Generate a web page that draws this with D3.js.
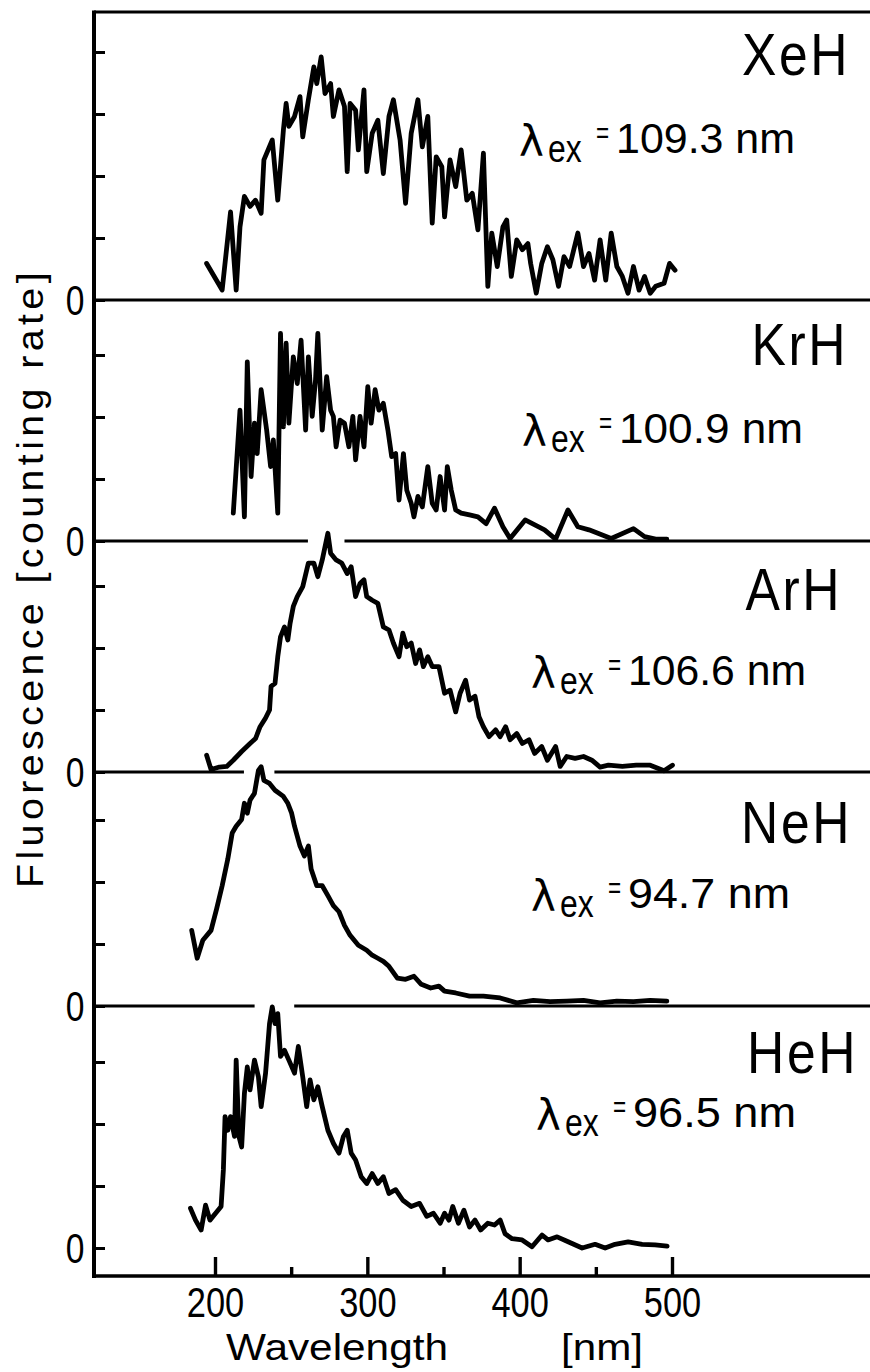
<!DOCTYPE html>
<html>
<head>
<meta charset="utf-8">
<script src="https://cdn.jsdelivr.net/npm/d3@7"></script>
<style>
html, body { margin: 0; padding: 0; background: #fff; }
svg { display: block; }
</style>
</head>
<body>
<svg id="chart" width="870" height="1372"></svg>
<script>
// ---- data (wavelength in nm, fluorescence in tick units) ----
const wavelengthTicks = [200, 300, 400, 500];
const wavelengthMinorTicks = [250, 350, 450];
const panelNames = ['XeH', 'KrH', 'ArH', 'NeH', 'HeH'];
const excitationNm = ['109.3', '100.9', '106.6', '94.7', '96.5'];
const panelTicks = [[0, 1, 2, 3, 4], [0, 1, 2, 3], [0, 1, 2, 3], [0, 1, 2, 3], [0, 1, 2, 3]];

const xehSpectrum = [[194.5,0.59],[204.7,0.16],[210.2,1.42],[213.9,0.16],[216.4,1.18],[219.3,1.67],[223.0,1.51],[226.6,1.61],[230.3,1.40],[232.1,2.26],[237.6,2.58],[241.2,1.61],[244.9,2.74],[246.7,3.17],[248.5,2.80],[252.2,2.96],[255.8,3.28],[257.6,2.63],[261.3,3.23],[264.9,3.76],[266.8,3.49],[269.7,3.92],[272.2,3.33],[275.9,3.49],[277.7,2.96],[281.4,3.39],[285.0,3.12],[286.8,2.07],[288.7,3.17],[292.3,3.06],[294.1,2.42],[297.8,3.39],[299.6,2.07],[303.2,2.69],[306.9,2.90],[310.5,2.04],[314.2,2.96],[317.1,3.23],[321.5,2.58],[325.1,1.56],[328.8,2.69],[333.2,3.23],[336.1,2.47],[339.7,2.96],[342.6,1.24],[345.2,2.31],[348.9,2.15],[350.7,1.34],[354.3,2.26],[358.0,1.83],[361.6,2.42],[365.3,1.61],[368.9,1.72],[372.6,1.13],[376.2,2.37],[379.1,0.22],[381.7,1.08],[385.3,0.54],[389.0,1.18],[391.5,1.29],[394.5,0.38],[398.1,0.97],[401.8,0.81],[405.4,0.91],[407.2,0.59],[410.9,0.11],[414.5,0.59],[418.2,0.86],[421.8,0.65],[425.5,0.22],[429.1,0.70],[432.8,0.54],[438.2,1.08],[441.9,0.54],[445.5,0.75],[449.2,0.32],[452.8,0.97],[456.5,0.32],[460.1,1.08],[463.8,0.54],[467.4,0.38],[471.1,0.11],[474.7,0.54],[478.4,0.16],[482.0,0.38],[485.7,0.11],[489.3,0.22],[494.8,0.27],[498.4,0.59],[502.0,0.48]];

const krhSpectrum = [[212.0,0.45],[216.4,2.11],[219.3,0.39],[221.2,2.89],[223.7,1.04],[225.9,1.90],[227.7,1.41],[230.3,2.44],[233.9,1.79],[236.5,1.20],[238.3,1.63],[241.2,0.45],[243.0,3.35],[244.9,1.84],[246.7,3.19],[248.5,1.90],[251.4,2.97],[254.0,2.54],[256.5,3.24],[259.5,1.79],[261.3,2.97],[263.8,2.01],[266.0,2.60],[267.5,3.35],[270.4,1.79],[273.3,2.65],[275.9,2.11],[277.7,2.01],[279.5,1.52],[282.1,1.95],[285.0,1.90],[287.9,1.52],[290.5,2.01],[292.3,1.31],[295.2,2.01],[297.8,1.52],[300.3,2.49],[302.5,1.90],[305.1,2.44],[307.6,2.11],[310.5,2.22],[313.5,1.79],[316.0,1.36],[318.6,1.41],[320.8,0.66],[323.7,1.41],[325.9,0.82],[328.8,0.61],[330.6,0.39],[333.2,0.72],[336.1,0.55],[339.7,1.20],[342.6,0.61],[345.2,0.50],[347.8,1.04],[350.7,0.50],[352.5,1.20],[355.1,0.82],[358.0,0.50],[361.6,0.45],[367.1,0.42],[372.6,0.39],[378.0,0.28],[383.5,0.53],[389.0,0.23],[393.7,0.04],[403.6,0.34],[416.3,0.18],[423.6,0.03],[431.7,0.50],[438.2,0.23],[445.5,0.18],[460.1,0.04],[474.7,0.20],[482.0,0.07],[489.3,0.03],[496.6,0.03]];

const arhSpectrum = [[194.5,0.27],[197.4,0.04],[202.9,0.08],[207.7,0.09],[212.0,0.19],[217.5,0.33],[223.0,0.46],[226.6,0.54],[229.6,0.73],[233.2,0.87],[235.8,1.00],[236.8,1.38],[239.4,1.43],[241.2,1.86],[243.0,2.18],[245.6,2.34],[247.8,2.13],[249.3,2.40],[251.4,2.67],[254.0,2.83],[257.6,2.99],[261.3,3.37],[264.9,3.37],[267.5,3.15],[270.4,3.42],[274.1,3.85],[275.9,3.53],[279.5,3.42],[283.2,3.37],[286.8,3.20],[289.4,3.31],[292.3,2.83],[295.2,3.04],[297.8,3.10],[299.6,2.83],[303.2,2.77],[306.9,2.72],[310.5,2.34],[314.2,2.29],[317.1,2.08],[320.8,1.86],[323.3,2.24],[325.9,2.02],[328.8,2.08],[331.7,1.75],[334.3,1.97],[336.8,1.70],[339.7,1.86],[342.6,1.70],[347.0,1.70],[350.7,1.27],[354.3,1.32],[358.0,0.97],[360.9,1.27],[364.5,1.48],[367.1,1.16],[370.7,1.22],[373.3,0.89],[376.2,0.73],[379.9,0.57],[384.2,0.68],[387.2,0.57],[390.8,0.73],[393.7,0.52],[398.1,0.62],[401.8,0.46],[406.1,0.52],[409.8,0.30],[414.5,0.41],[418.2,0.19],[423.6,0.41],[426.6,0.09],[430.9,0.25],[436.4,0.22],[441.9,0.25],[447.4,0.19],[452.8,0.08],[458.3,0.11],[467.4,0.09],[476.5,0.11],[485.7,0.11],[494.8,0.02],[500.3,0.11]];

const nehSpectrum = [[184.7,1.22],[188.3,0.77],[192.0,1.06],[197.4,1.22],[201.1,1.57],[204.7,1.94],[208.4,2.37],[211.3,2.79],[213.9,2.90],[217.5,3.01],[219.3,3.27],[221.2,3.11],[223.0,3.32],[225.9,3.43],[228.5,3.80],[230.3,3.86],[232.1,3.64],[235.8,3.59],[239.4,3.48],[244.9,3.38],[247.8,3.27],[250.3,3.11],[252.2,2.90],[255.8,2.58],[258.7,2.42],[261.3,2.58],[263.1,2.21],[266.8,1.94],[270.4,1.94],[274.1,1.78],[277.7,1.62],[281.4,1.52],[285.0,1.30],[288.7,1.14],[294.1,0.98],[299.6,0.90],[303.2,0.82],[306.9,0.77],[310.5,0.72],[314.2,0.64],[319.7,0.45],[325.1,0.43],[330.6,0.48],[335.4,0.35],[341.6,0.29],[347.0,0.32],[350.7,0.24],[358.0,0.21],[367.1,0.16],[376.2,0.16],[387.2,0.13],[398.1,0.05],[409.0,0.09],[420.0,0.07],[430.9,0.08],[441.9,0.09],[452.8,0.05],[463.8,0.08],[474.7,0.07],[485.7,0.09],[496.6,0.08]];

const hehSpectrum = [[183.9,0.64],[187.2,0.45],[190.9,0.29],[193.8,0.69],[196.7,0.45],[200.4,0.56],[204.0,0.67],[205.5,1.26],[206.6,2.12],[208.4,1.90],[210.2,2.12],[212.8,1.80],[213.9,3.03],[215.7,1.80],[217.5,1.63],[219.3,2.49],[221.2,2.92],[223.0,2.55],[225.9,3.03],[228.5,2.76],[230.3,2.28],[233.2,2.82],[235.8,3.62],[237.6,3.89],[239.4,3.62],[241.2,3.78],[243.0,3.09],[245.6,3.19],[248.5,3.03],[252.2,2.82],[254.7,3.25],[257.6,2.76],[260.2,2.28],[262.4,2.71],[264.9,2.39],[267.5,2.60],[270.4,2.28],[274.1,1.90],[277.7,1.69],[281.4,1.53],[284.3,1.80],[286.8,1.90],[289.4,1.53],[292.3,1.42],[296.0,1.15],[299.6,1.04],[303.2,1.20],[306.9,1.04],[310.5,1.15],[314.2,0.88],[318.6,0.94],[323.3,0.77],[328.8,0.67],[334.3,0.72],[339.0,0.51],[343.4,0.56],[347.8,0.40],[350.7,0.56],[353.6,0.45],[356.1,0.67],[359.8,0.40],[363.4,0.61],[367.1,0.34],[370.7,0.45],[374.4,0.29],[379.1,0.40],[383.5,0.37],[387.2,0.45],[390.4,0.23],[395.0,0.15],[401.6,0.13],[408.1,0.02],[414.7,0.21],[418.6,0.13],[424.6,0.18],[431.8,0.10],[441.0,0.00],[449.5,0.06],[456.1,0.00],[462.6,0.06],[471.2,0.10],[480.4,0.06],[488.9,0.05],[496.8,0.03]];

const spectra = [xehSpectrum, krhSpectrum, arhSpectrum, nehSpectrum, hehSpectrum];
// breaks in each panel's zero line where the curve below pokes through (nm)
const baselineGaps = [[], [[261, 285]], [[219, 239]], [[226, 252]], []];

// ---- layout ----
const frame = { left: 94, top: 12, right: 870, bottom: 1276 };
const zeroY = [300, 541, 772, 1006, 1248];
const unit = 62;
const nameRight = [850, 848, 842, 852, 858];
const nameBase = [75, 365, 610, 843, 1073];
const lambdaX = [519, 522, 531, 531, 536];
const lambdaBase = [153, 443, 685, 908, 1127];
const valueEnd = [795, 803, 806, 790, 796];

const font = "'Liberation Sans', Arimo, Arial, sans-serif";
const squeeze = 0.84;   // the print uses a condensed face
const svg = d3.select('#chart');

const x = d3.scaleLinear().domain([200, 500]).range([215, 672]);
const ys = zeroY.map(z => d3.scaleLinear().domain([0, 4]).range([z, z - 4 * unit]));

function label(parent, px, py, str, size, anchor = 'start', sx = squeeze) {
    return parent.append('text')
        .attr('transform', `translate(${px},${py}) scale(${sx},1)`)
        .attr('text-anchor', anchor)
        .attr('fill', '#000')
        .style('font-family', font)
        .style('font-size', size + 'px')
        .text(str);
}

// frame lines
const frameG = svg.append('g').attr('stroke', '#000').attr('fill', 'none');
frameG.append('line').attr('x1', frame.left).attr('x2', frame.right)
    .attr('y1', frame.top).attr('y2', frame.top).attr('stroke-width', 3);
frameG.append('line').attr('x1', frame.left).attr('x2', frame.left)
    .attr('y1', frame.top - 1.5).attr('y2', frame.bottom + 2).attr('stroke-width', 4);
frameG.append('line').attr('x1', frame.left).attr('x2', frame.right)
    .attr('y1', frame.bottom).attr('y2', frame.bottom).attr('stroke-width', 3.6);

// panel zero lines, broken where needed
zeroY.slice(0, 4).forEach((z, i) => {
    const pts = [frame.left];
    baselineGaps[i].forEach(g => pts.push(x(g[0]), x(g[1])));
    pts.push(frame.right);
    const segs = d3.range(0, pts.length, 2).map(k => [pts[k], pts[k + 1]]);
    frameG.selectAll(null).data(segs).join('line')
        .attr('x1', d => d[0]).attr('x2', d => d[1])
        .attr('y1', z).attr('y2', z)
        .attr('stroke-width', 3);
});

// y ticks per panel
ys.forEach((y, i) => {
    svg.append('g')
        .attr('transform', `translate(${frame.left},0)`)
        .call(d3.axisRight(y).tickValues(panelTicks[i]).tickSize(11).tickFormat(''))
        .call(g => g.select('.domain').remove())
        .call(g => g.selectAll('.tick line').attr('stroke', '#000').attr('stroke-width', 3));
    label(svg, 75, y(0) + 15, '0', 42, 'middle', 0.8);
});

// x axis
const xAxis = svg.append('g')
    .attr('transform', `translate(0,${frame.bottom})`)
    .call(d3.axisBottom(x).tickValues(wavelengthTicks).tickSize(-19).tickPadding(10))
    .call(g => g.select('.domain').remove());
xAxis.selectAll('.tick line').attr('stroke', '#000').attr('stroke-width', 3.4);
xAxis.selectAll('.tick text')
    .attr('fill', '#000')
    .attr('transform', 'scale(0.8,1)')
    .attr('x', 0)
    .style('font-family', font).style('font-size', '43px');
svg.append('g')
    .attr('transform', `translate(0,${frame.bottom})`)
    .call(d3.axisBottom(x).tickValues(wavelengthMinorTicks).tickSize(-9).tickFormat(''))
    .call(g => g.select('.domain').remove())
    .call(g => g.selectAll('.tick line').attr('stroke', '#000').attr('stroke-width', 3.4));

// curves
const line = d3.line().x(d => x(d[0]));
spectra.forEach((s, i) => {
    svg.append('path')
        .datum(s)
        .attr('fill', 'none')
        .attr('stroke', '#000')
        .attr('stroke-width', 4.8)
        .attr('stroke-linejoin', 'round')
        .attr('stroke-linecap', 'round')
        .attr('d', line.y(d => ys[i](d[1])));
});

// panel labels
panelNames.forEach((name, i) => {
    label(svg, nameRight[i], nameBase[i], name, 60, 'end', 0.86)
        .style('letter-spacing', '3px');

    const b = lambdaBase[i], x0 = lambdaX[i];
    const lam = svg.append('g');
    lam.append('text').attr('x', x0).attr('y', b + 3)
        .attr('fill', '#000')
        .style('font-family', "'DejaVu Sans', sans-serif").style('font-size', '42px')
        .text('λ');
    label(lam, x0 + 29, b + 9, 'ex', 38);
    label(lam, x0 + 77, b - 10, '=', 30, 'start', 0.75);
    const vx = x0 + 97;
    label(lam, vx, b, excitationNm[i] + ' nm', 42, 'start', 1)
        .attr('textLength', valueEnd[i] - vx)
        .attr('lengthAdjust', 'spacingAndGlyphs');
});

// axis titles
svg.append('text')
    .attr('transform', 'translate(43,578) rotate(-90)')
    .attr('text-anchor', 'middle')
    .attr('textLength', 620)
    .attr('lengthAdjust', 'spacingAndGlyphs')
    .attr('fill', '#000')
    .style('font-family', font).style('font-size', '36px')
    .style('letter-spacing', '4px')
    .text('Fluorescence [counting rate]');
svg.append('text')
    .attr('x', 226).attr('y', 1360)
    .attr('textLength', 222)
    .attr('lengthAdjust', 'spacingAndGlyphs')
    .attr('fill', '#000')
    .style('font-family', font).style('font-size', '37px')
    .text('Wavelength');
svg.append('text')
    .attr('x', 561).attr('y', 1360)
    .attr('textLength', 82)
    .attr('lengthAdjust', 'spacingAndGlyphs')
    .attr('fill', '#000')
    .style('font-family', font).style('font-size', '37px')
    .text('[nm]');
</script>
</body>
</html>
